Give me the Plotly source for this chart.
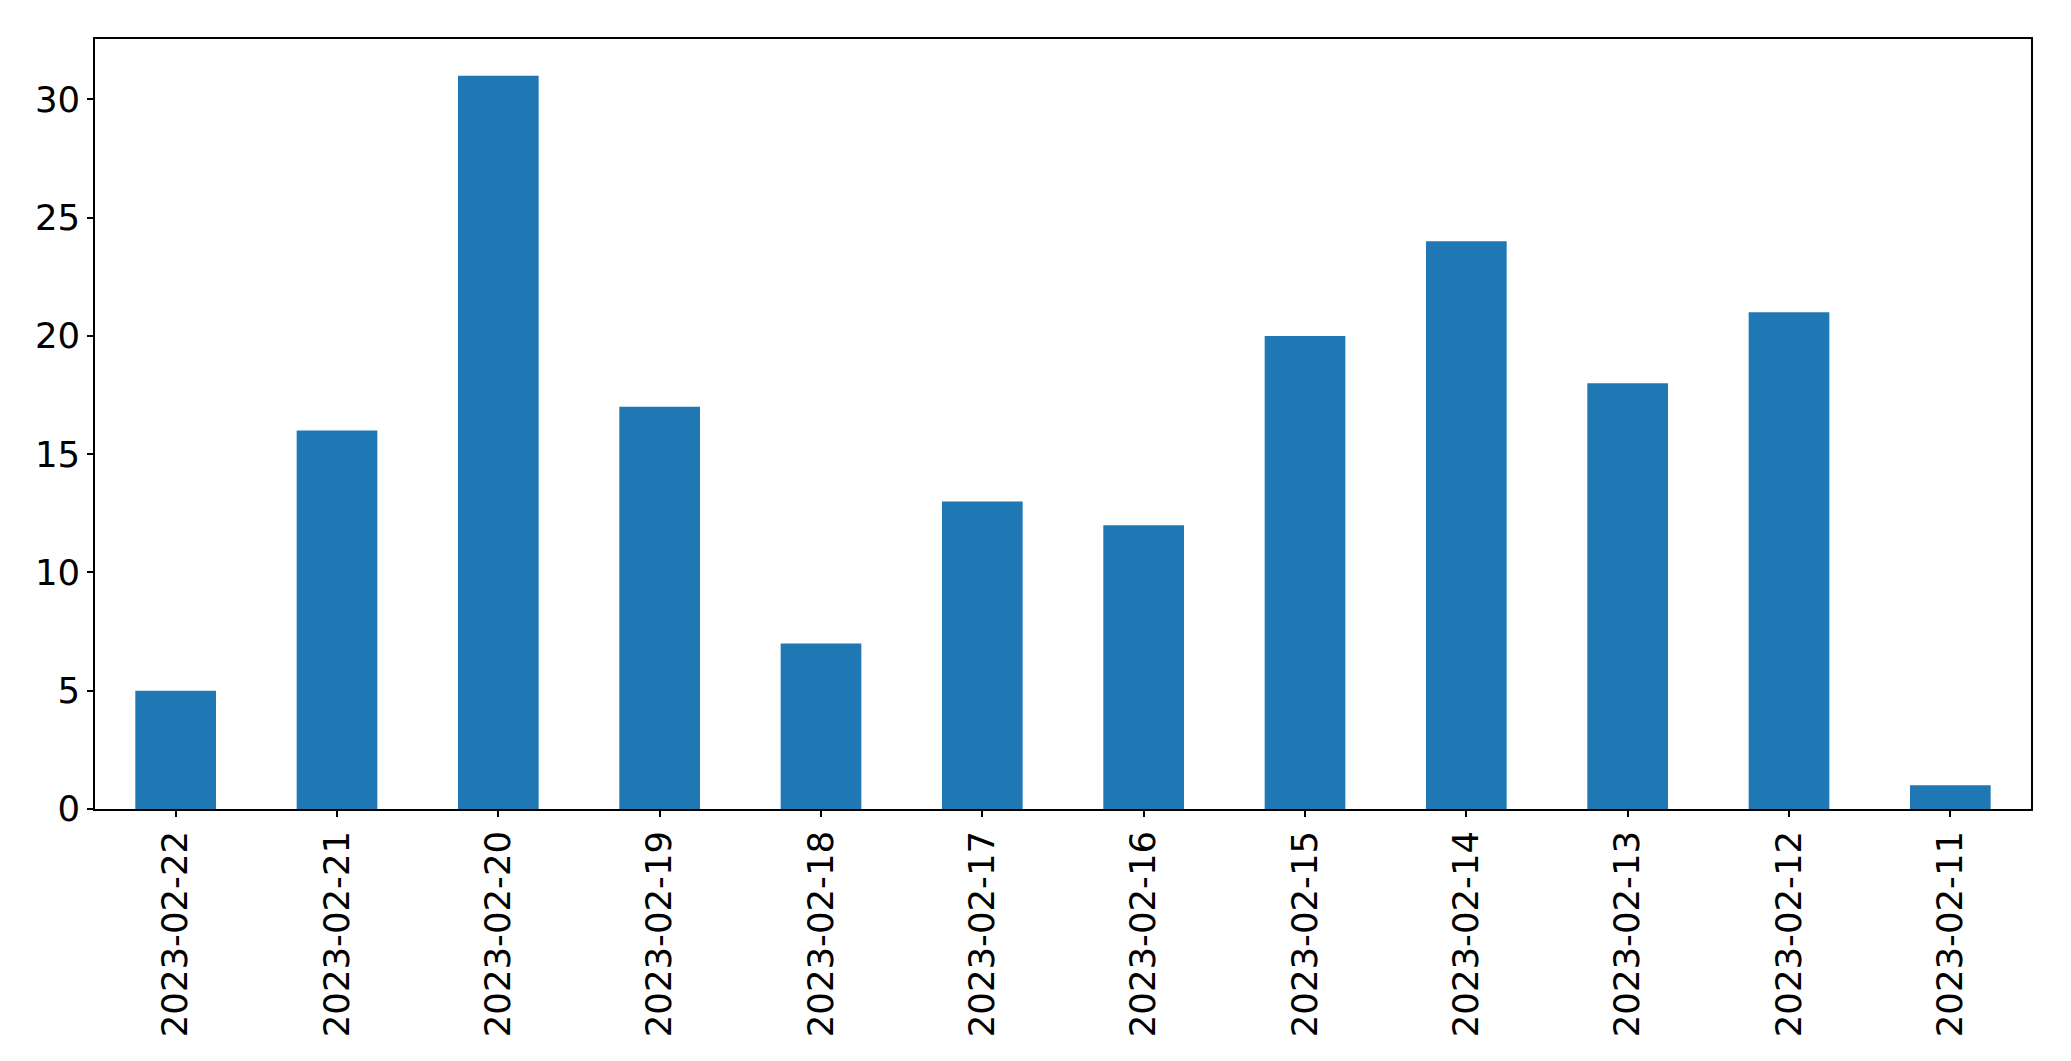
import plotly.graph_objects as go

dates = ["2023-02-22", "2023-02-21", "2023-02-20", "2023-02-19", "2023-02-18", "2023-02-17",
         "2023-02-16", "2023-02-15", "2023-02-14", "2023-02-13", "2023-02-12", "2023-02-11"]
counts = [5, 16, 31, 17, 7, 13, 12, 20, 24, 18, 21, 1]
y_ticks = [0, 5, 10, 15, 20, 25, 30]

fig = go.Figure(go.Bar(x=dates, y=counts, width=0.5, marker=dict(color="#1f77b4", line=dict(width=0))))

axis_common = dict(showline=True, linecolor="black", linewidth=1.5, mirror=True,
                   showgrid=False, zeroline=False, ticks="outside", ticklen=6,
                   tickcolor="black", tickwidth=1.5, automargin=False,
                   tickfont=dict(family="DejaVu Sans", size=35.5, color="black"))

fig.update_layout(
    width=2055, height=1045,
    margin=dict(l=87, r=32, t=31, b=244, autoexpand=False),
    paper_bgcolor="white", plot_bgcolor="white",
    showlegend=False,
    xaxis=dict(type="category", range=[-0.5, 11.5], tickangle=-90, **axis_common),
    yaxis=dict(range=[0, 32.55], tickvals=y_ticks, ticktext=[str(v) for v in y_ticks], **axis_common),
)

fig.write_html("out.html")
